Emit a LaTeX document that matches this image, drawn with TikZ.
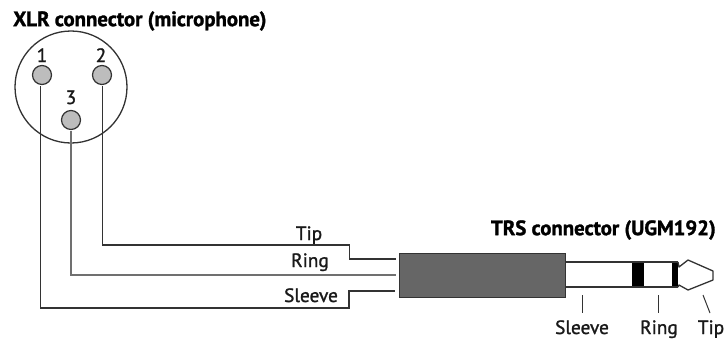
\documentclass[tikz,border=0pt]{standalone}
\usepackage{fontspec}
\setmainfont{PT Sans}
\newfontfamily\labelfont[FakeBold=1.3]{PT Sans}
\newfontfamily\titlefont[FakeBold=1.4]{PT Sans Bold}
\definecolor{wire}{HTML}{333333}
\definecolor{pinfill}{HTML}{BDBDBD}
\definecolor{bodyfill}{HTML}{666666}
\tikzset{
  wireline/.style={draw=wire,line width=1.3pt},
  pin/.style={circle,draw=wire,fill=pinfill,line width=1.2pt,minimum size=19pt,inner sep=0pt},
  titletext/.style={inner sep=0pt,font=\fontsize{20.8}{22}\titlefont,text=black},
  labeltext/.style={inner sep=0pt,anchor=base,font=\fontsize{19.3}{20}\labelfont,text=black!90},
  shell/.style={draw=wire,line width=1.3pt}
}
\begin{document}
\begin{tikzpicture}[x=1pt,y=-1pt]
\useasboundingbox (0,0) rectangle (726,338);
\node[titletext,anchor=west] (t1) at (13,21) {XLR connector (microphone)};
\node[titletext,anchor=east] (t2) at (716,230) {TRS connector (UGM192)};
\node[circle,shell,minimum size=112pt,inner sep=0pt] (xlr) at (71,87) {};
\node[pin] (p1) at (42,75) {};
\node[pin] (p2) at (102,75) {};
\node[pin] (p3) at (71,120) {};
\node[labeltext] (n1) at (42,62) {1};
\node[labeltext] (n2) at (101,62) {2};
\node[labeltext] (n3) at (71,104) {3};
\node[draw=wire,fill=bodyfill,line width=1.3pt,inner sep=0pt,minimum width=166pt,minimum height=44pt,anchor=north west] (body) at (399,253) {};
\coordinate (e1) at (395,291);
\coordinate (e2) at (396,259);
\coordinate (e3) at (396,275);
\draw[wireline] (40.5,86) -- (40.5,308) -- (349,308) -- (349,291) -- (e1);
\draw[wireline] (102.5,86) -- (102.5,245) -- (349.5,245) -- (349.5,259) -- (e2);
\draw[wireline,draw=wire!70] (71,131) -- (71,275) -- (e3);
\node[labeltext] (l1) at (309,240) {Tip};
\node[labeltext] (l2) at (310,267) {Ring};
\node[labeltext] (l3) at (311,302) {Sleeve};
\fill[black] (632,262) rectangle (644,287);
\fill[black] (672,262) rectangle (678,287);
\draw[shell] (565,262) -- (678,262);
\draw[shell] (565,287) -- (678,287);
\draw[shell,line join=round] (678,262) -- (679,267) -- (688,260) -- (713,271) -- (713,280) -- (688,290) -- (679,285) -- (678,287);
\coordinate (a1) at (582,295);
\coordinate (a2) at (582,313);
\coordinate (b1) at (658,295);
\coordinate (b2) at (658,313);
\coordinate (c1) at (703,295);
\coordinate (c2) at (710,313);
\draw[wire,line width=1pt] (a1) -- (a2);
\draw[wire,line width=1pt] (b1) -- (b2);
\draw[wire,line width=1pt] (c1) -- (c2);
\node[labeltext] (s) at (582,334) {Sleeve};
\node[labeltext] (r) at (659,334) {Ring};
\node[labeltext] (ti) at (711,334) {Tip};
\end{tikzpicture}
\end{document}
